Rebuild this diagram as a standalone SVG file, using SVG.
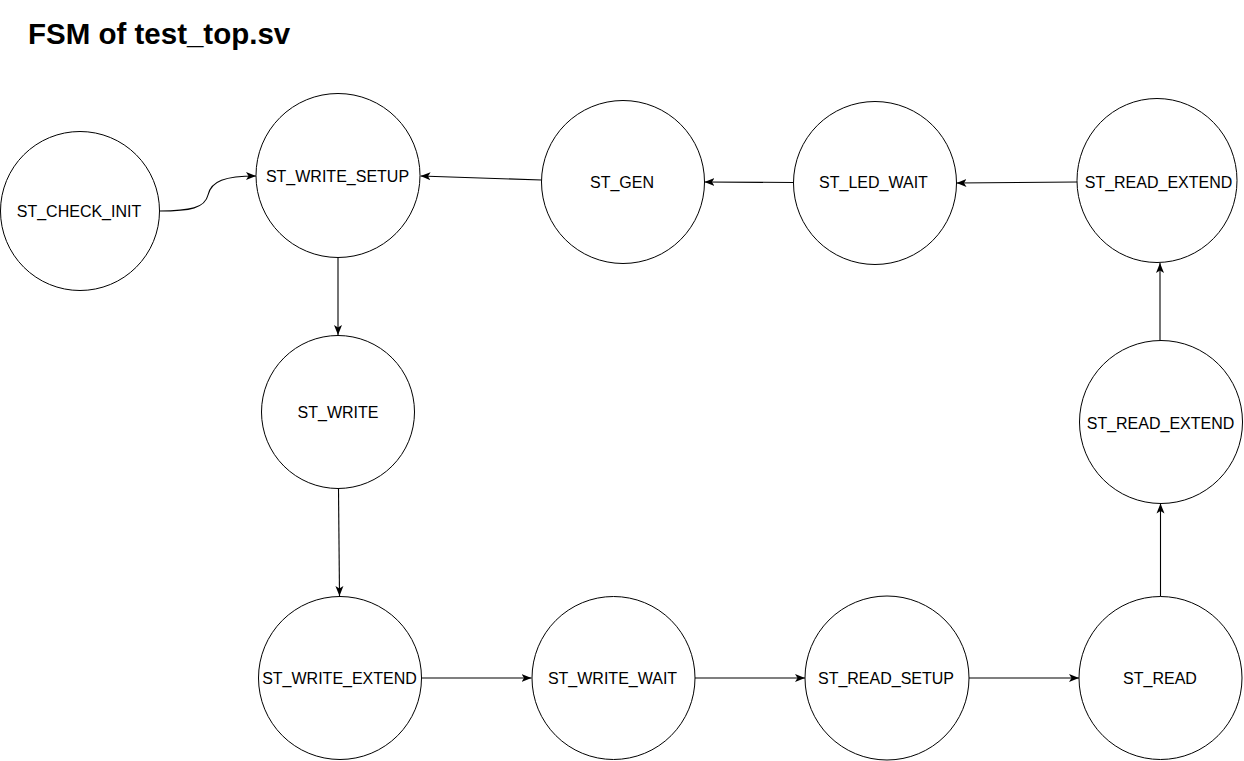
<svg xmlns="http://www.w3.org/2000/svg" width="1244" height="761" viewBox="0 0 1244 761">
<style>
.node{fill:#fff;stroke:#000;stroke-width:1}
.lbl{font-family:"Liberation Sans",Arial,sans-serif;font-size:16px;fill:#000;text-anchor:middle;dominant-baseline:central}
.edge{fill:none;stroke:#000;stroke-width:1.1;marker-end:url(#arr)}
.title{font-family:"Liberation Sans",Arial,sans-serif;font-size:29.5px;font-weight:bold;fill:#000}
</style>
<defs>
<marker id="arr" viewBox="0 0 10 10" refX="10" refY="5" markerWidth="10" markerHeight="10" markerUnits="userSpaceOnUse" orient="auto">
<path d="M0,1 L10,5 L0,9 L2.5,5 Z" fill="#000"/>
</marker>
</defs>
<rect width="1244" height="761" fill="#fff"/>
<text class="title" x="28" y="43.5">FSM of test_top.sv</text>
<g id="connectors">
<path class="edge" d="M159.5,211 C190,211 205,208 208,195 C211,181 225,176 256,176"/>
<path class="edge" d="M338,257.5 L338,335"/>
<path class="edge" d="M338.5,488.5 L339.5,596"/>
<path class="edge" d="M421.5,678 L531.5,678"/>
<path class="edge" d="M695,678 L805,678"/>
<path class="edge" d="M969,678 L1079,678"/>
<path class="edge" d="M1160.5,596.5 L1160.5,503.5"/>
<path class="edge" d="M1160,340.5 L1160,263"/>
<path class="edge" d="M1077,182 L956.5,183"/>
<path class="edge" d="M793.5,182.5 L704.5,182"/>
<path class="edge" d="M541.5,180 L420.5,176"/>
</g>
<g id="st_check_init"><circle class="node" cx="80" cy="211" r="79.5"/><text class="lbl" x="79" y="211.5">ST_CHECK_INIT</text></g>
<g id="st_write_setup"><circle class="node" cx="338" cy="175.5" r="82"/><text class="lbl" x="337.5" y="176">ST_WRITE_SETUP</text></g>
<g id="st_gen"><circle class="node" cx="623" cy="182" r="81.5"/><text class="lbl" x="622" y="182.5">ST_GEN</text></g>
<g id="st_led_wait"><circle class="node" cx="875" cy="183" r="81.5"/><text class="lbl" x="873.5" y="182.5">ST_LED_WAIT</text></g>
<g id="st_read_extend_top"><ellipse class="node" cx="1157" cy="180.5" rx="80" ry="82"/><text class="lbl" x="1158.5" y="182">ST_READ_EXTEND</text></g>
<g id="st_read_extend_mid"><circle class="node" cx="1161" cy="422" r="81.5"/><text class="lbl" x="1160.5" y="423">ST_READ_EXTEND</text></g>
<g id="st_write"><circle class="node" cx="338" cy="412" r="76.5"/><text class="lbl" x="338" y="412.5">ST_WRITE</text></g>
<g id="st_write_extend"><circle class="node" cx="340" cy="678" r="81.5"/><text class="lbl" x="339.5" y="678">ST_WRITE_EXTEND</text></g>
<g id="st_write_wait"><circle class="node" cx="613.5" cy="678" r="81.5"/><text class="lbl" x="612.5" y="678">ST_WRITE_WAIT</text></g>
<g id="st_read_setup"><circle class="node" cx="887" cy="678" r="82"/><text class="lbl" x="886" y="678">ST_READ_SETUP</text></g>
<g id="st_read"><circle class="node" cx="1160.5" cy="678" r="81.5"/><text class="lbl" x="1160" y="678">ST_READ</text></g>
</svg>
